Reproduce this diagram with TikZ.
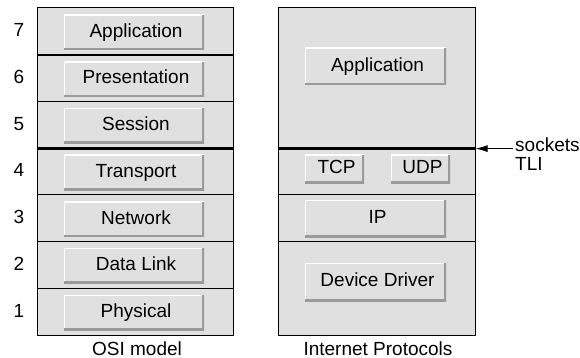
\documentclass[tikz,border=0pt]{standalone}
\usepackage{fontspec}
\setmainfont{Liberation Sans}
\usetikzlibrary{arrows.meta}
\definecolor{layergray}{HTML}{E0E0E0}
\definecolor{edgegray}{HTML}{9A9A9A}
\newcommand{\bx}[1]{\hspace*{4pt}#1}
\tikzset{
  txt/.style={font=\fontsize{19}{22}\selectfont, text height=14pt, text depth=4.3pt, inner sep=0pt},
  layer/.style={draw=black, line width=1pt, fill=layergray, inner sep=0pt, minimum width=196pt},
  sep/.style={line width=2.6pt},
  bevel/.style={txt, fill=layergray, minimum height=35pt, minimum width=140pt,
    path picture={
      \draw[white, line width=2pt] (path picture bounding box.south west) -- (path picture bounding box.north west) -- (path picture bounding box.north east);
      \draw[edgegray, line width=4pt] (path picture bounding box.south west) -- (path picture bounding box.south east) -- (path picture bounding box.north east);
    }},
  lbl/.style={font=\fontsize{19}{22}\selectfont, inner sep=0pt}
}
\begin{document}
\begin{tikzpicture}[x=1pt,y=-1pt]
\useasboundingbox (0,0) rectangle (580,358);
% OSI model layers
\foreach \n/\c in {7/31.35,6/78.05,5/124.75,4/171.5,3/218.2,2/264.9,1/311.65}{
  \node[layer, minimum height=46.7pt] (o\n) at (135,\c) {};
}
\node[txt] (n7) at (19,31.85) {7};
\node[txt] (n6) at (19,78.55) {6};
\node[txt] (n5) at (19,125.25) {5};
\node[txt] (n4) at (19,172) {4};
\node[txt] (n3) at (19,218.7) {3};
\node[txt] (n2) at (19,265.4) {2};
\node[txt] (n1) at (19,312.15) {1};
\node[bevel] (b7) at (134,32.35) {\bx{Application}};
\node[bevel] (b6) at (134,79.05) {\bx{Presentation}};
\node[bevel] (b5) at (134,125.75) {\bx{Session}};
\node[bevel] (b4) at (134,172.5) {\bx{Transport}};
\node[bevel] (b3) at (134,219.2) {\bx{Network}};
\node[bevel] (b2) at (134,265.9) {\bx{Data Link}};
\node[bevel] (b1) at (134,312.65) {\bx{Physical}};
% Internet protocols layers
\node[layer, minimum width=197pt, minimum height=140.1pt] (rtop) at (376.5,78.05) {};
\node[layer, minimum width=197pt, minimum height=46.7pt] (r4) at (376.5,171.5) {};
\node[layer, minimum width=197pt, minimum height=46.7pt] (r3) at (376.5,218.2) {};
\node[layer, minimum width=197pt, minimum height=93.4pt] (r2) at (376.5,288.3) {};
\node[bevel, minimum width=141pt, minimum height=37pt] (iapp) at (375.5,66.5) {\bx{Application}};
\node[bevel, minimum width=59pt, minimum height=28pt] (tcp) at (334.5,169) {\bx{TCP}};
\node[bevel, minimum width=59pt, minimum height=28pt] (udp) at (420.5,169) {\bx{UDP}};
\node[bevel, minimum width=141pt, minimum height=37pt] (ip) at (375.5,218.5) {\bx{IP}};
\node[bevel, minimum width=141pt, minimum height=38pt] (dd) at (375.5,282) {\bx{Device Driver}};
% thick separators
\draw[sep] (o7.south west) -- (o7.south east);
\draw[sep] (o5.south west) -- (o5.south east);
\draw[sep] (rtop.south west) -- (rtop.south east);
% captions
\node[txt] (cap1) at (137,350.5) {OSI model};
\node[txt] (cap2) at (378,350.5) {Internet Protocols};
% sockets / TLI
\node[lbl, anchor=base west] (sock) at (515,152) {sockets};
\node[lbl, anchor=base west] (tli) at (515,170) {TLI};
\draw[line width=1pt, -{Latex[length=12pt,width=7pt]}] ([xshift=-2.5pt]sock.west |- rtop.south east) -- (rtop.south east);
\end{tikzpicture}
\end{document}
